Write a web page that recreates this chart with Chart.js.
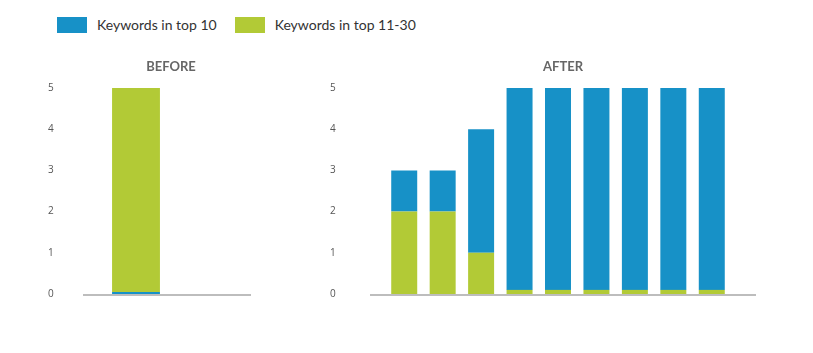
<!DOCTYPE html>
<html>
<head>
<meta charset="utf-8">
<script src="https://cdn.jsdelivr.net/npm/chart.js@4"></script>
<style>
  body { margin: 0; background: #fff; font-family: Lato, sans-serif; }
  #legend { position: absolute; left: 57px; top: 16px; display: flex; align-items: center; }
  .item { display: flex; align-items: center; margin-right: 18px; font-size: 14px; color: #333; }
  .box { width: 30px; height: 16px; margin-right: 10px; }
  canvas { position: absolute; top: 50px; }
  #beforeChart { left: 38px; }
  #afterChart { left: 325px; }
</style>
</head>
<body>
<div id="legend"></div>
<canvas id="beforeChart" width="266" height="260"></canvas>
<canvas id="afterChart" width="476" height="260"></canvas>
<script>
// data
var seriesNames = ["Keywords in top 10", "Keywords in top 11-30"];
var seriesColors = ["#1791c7", "#b2ca36"];

var beforeLabels = ["Before", ""];
var beforeTop10 = [0.05, null];
var beforeTop30 = [4.95, null];

var afterLabels = ["1", "2", "3", "4", "5", "6", "7", "8", "9"];
var afterTop10 = [1, 1, 3, 4.9, 4.9, 4.9, 4.9, 4.9, 4.9];
var afterTop30 = [2, 2, 1, 0.1, 0.1, 0.1, 0.1, 0.1, 0.1];

var yTicks = [0, 1, 2, 3, 4, 5];

// legend
var legend = document.getElementById("legend");
seriesNames.forEach(function (name, i) {
    var item = document.createElement("div");
    item.className = "item";
    item.innerHTML = '<span class="box" style="background:' + seriesColors[i] + '"></span>' + name;
    legend.appendChild(item);
});

// grey baseline that runs a bit past the bars, plus the panel title
var decor = {
    id: "decor",
    afterDatasetsDraw: function (chart, args, opts) {
        var ctx = chart.ctx;
        var a = chart.chartArea;
        var y = chart.scales.y.getPixelForValue(0) + 1;
        ctx.save();
        ctx.strokeStyle = "#bdbdbd";
        ctx.lineWidth = 2;
        ctx.beginPath();
        ctx.moveTo(a.left - opts.extLeft, y);
        ctx.lineTo(a.right + opts.extRight, y);
        ctx.stroke();

        ctx.fillStyle = "#666";
        ctx.font = "bold 13px Lato";
        ctx.textAlign = "center";
        ctx.textBaseline = "middle";
        ctx.fillText(opts.title, chart.width / 2, 17);
        ctx.restore();
    }
};

function makeChart(id, title, labels, datasets, barPct, padLeft, yWidth, padRight, extLeft, extRight) {
    var ctx = document.getElementById(id).getContext("2d");
    return new Chart(ctx, {
        type: "bar",
        data: { labels: labels, datasets: datasets },
        options: {
            responsive: false,
            animation: false,
            layout: { padding: { left: padLeft, right: padRight, bottom: 16, top: 38 } },
            plugins: {
                legend: { display: false },
                tooltip: { enabled: false },
                title: { display: false },
                decor: { extLeft: extLeft, extRight: extRight, title: title }
            },
            datasets: { bar: { barPercentage: barPct, categoryPercentage: 1 } },
            scales: {
                x: {
                    stacked: true,
                    grid: { display: false },
                    border: { display: false },
                    ticks: { display: false },
                    afterFit: function (s) { s.height = 0; }
                },
                y: {
                    stacked: true,
                    min: 0,
                    max: 5,
                    afterBuildTicks: function (s) { s.ticks = yTicks.map(function (v) { return { value: v }; }); },
                    grid: { display: false, drawTicks: false },
                    border: { display: false },
                    ticks: { color: "#555", padding: 0, crossAlign: "far", font: { family: "Open Sans", size: 10 } },
                    afterFit: function (s) { s.width = yWidth; }
                }
            }
        },
        plugins: [decor]
    });
}

makeChart("beforeChart", "BEFORE", beforeLabels, [
    { label: seriesNames[0], data: beforeTop10, backgroundColor: seriesColors[0] },
    { label: seriesNames[1], data: beforeTop30, backgroundColor: seriesColors[1] }
], 0.63, 10, 50, 54, 15, 1);

makeChart("afterChart", "AFTER", afterLabels, [
    { label: seriesNames[1], data: afterTop30, backgroundColor: seriesColors[1] },
    { label: seriesNames[0], data: afterTop10, backgroundColor: seriesColors[0] }
], 0.676, 5, 55, 70, 15, 25);
</script>
</body>
</html>
